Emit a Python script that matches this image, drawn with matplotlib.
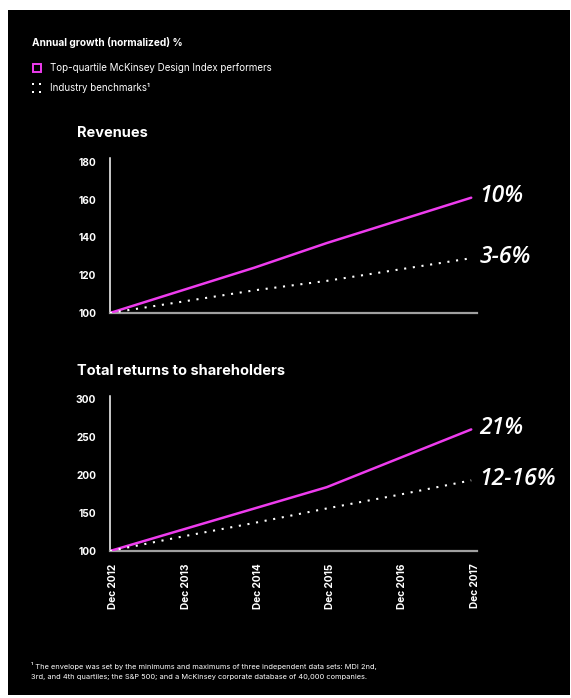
import numpy as np
import matplotlib
matplotlib.use("Agg")
import matplotlib.pyplot as plt
import matplotlib.transforms as mtransforms
from matplotlib.patches import Rectangle

# data (index, Dec 2012 = 100)
years = ["Dec 2012", "Dec 2013", "Dec 2014", "Dec 2015", "Dec 2016", "Dec 2017"]
rev_top = [100, 112, 124, 137, 149, 161]
rev_bench = [100, 106, 112, 117, 123, 129]
tsr_top = [100, 128, 156, 184, 222, 260]
tsr_bench = [100, 119, 137, 156, 174, 193]
rev_ticks = [100, 120, 140, 160, 180]
tsr_ticks = [100, 150, 200, 250, 300]
rev_labels = ["10%", "3-6%"]
tsr_labels = ["21%", "12-16%"]

W, H = 571, 698
MAGENTA = "#ee3cee"
plt.rcParams["font.family"] = ["Inter", "DejaVu Sans"]

fig = plt.figure(figsize=(W / 100, H / 100), dpi=100, facecolor="white")

# background axes in pixel coords (y from top) for the black panel and legend
bg = fig.add_axes([0, 0, 1, 1], zorder=-10)
bg.set_xlim(0, W)
bg.set_ylim(H, 0)
bg.axis("off")
bg.add_patch(Rectangle((8, 10), 562, 685, facecolor="black", edgecolor="none"))
bg.add_patch(Rectangle((32.5, 64), 8, 8, facecolor="none", edgecolor=MAGENTA, lw=1.4))
bg.scatter([33, 40, 33, 40], [84, 84, 92, 92], s=2.5, color="white", marker="s", lw=0)


def px(x, y):
    return x / W, 1 - y / H


x = np.arange(len(years))


def make_axes(top, bottom, ylim, ticks, top_vals, bench_vals, labels, show_x):
    l, b = px(110, bottom)
    ax = fig.add_axes([l, b, 367 / W, (bottom - top) / H])
    ax.patch.set_alpha(0)
    ax.plot(x, top_vals, color=MAGENTA, lw=1.8, solid_capstyle="round", zorder=3)
    ax.plot(x, bench_vals, color="white", lw=1.5, linestyle=(0, (1, 3.2)), zorder=3)
    ax.set_xlim(0, 5.08)
    ax.set_ylim(*ylim)
    ax.set_yticks(ticks)
    for s in ["top", "right"]:
        ax.spines[s].set_visible(False)
    ax.spines["left"].set_color("white")
    ax.spines["left"].set_linewidth(1.1)
    ax.spines["bottom"].set_color("#a0a0a0")
    ax.spines["bottom"].set_linewidth(1.6)
    ax.tick_params(axis="y", length=0, pad=10, labelcolor="white", labelsize=7.3)
    for t in ax.get_yticklabels():
        t.set_fontweight("bold")
    ax.set_xticks(x)
    if show_x:
        ax.set_xticklabels(years, rotation=90, fontsize=7.3, fontweight="bold", color="white")
        ax.tick_params(axis="x", length=0, pad=9)
        shift = mtransforms.ScaledTranslation(3.5 / 100, 0, fig.dpi_scale_trans)
        for t in ax.get_xticklabels():
            t.set_transform(t.get_transform() + shift)
    else:
        ax.set_xticklabels([])
        ax.tick_params(axis="x", length=0)
    for vals, lab in zip([top_vals, bench_vals], labels):
        ax.annotate(lab, (x[-1], vals[-1]), xytext=(6, 1), textcoords="offset points",
                    va="center", ha="left", color="white", fontsize=16.5,
                    fontstyle="italic", fontweight="semibold", family=["Open Sans", "DejaVu Sans"],
                    annotation_clip=False)
    return ax


make_axes(158, 313, (100, 182), rev_ticks, rev_top, rev_bench, rev_labels, False)
make_axes(396, 551, (100, 304), tsr_ticks, tsr_top, tsr_bench, tsr_labels, True)

# titles
fig.text(*px(77, 133), "Revenues", color="white", fontsize=10.5, fontweight="bold", va="center")
fig.text(*px(77, 371), "Total returns to shareholders", color="white", fontsize=10.5,
         fontweight="bold", va="center")

# header and legend text
fig.text(*px(32, 43), "Annual growth (normalized) %", color="white", fontsize=7.3,
         fontweight="bold", va="center")
fig.text(*px(50, 68), "Top-quartile McKinsey Design Index performers", color="white",
         fontsize=7.0, va="center")
fig.text(*px(50, 88), "Industry benchmarks\u00b9", color="white", fontsize=7.0, va="center")

# footnote
fig.text(*px(31, 666), "\u00b9 The envelope was set by the minimums and maximums of three independent "
         "data sets: MDI 2nd,", color="white", fontsize=5.35, va="center")
fig.text(*px(31, 677), "3rd, and 4th quartiles; the S&P 500; and a McKinsey corporate database "
         "of 40,000 companies.", color="white", fontsize=5.35, va="center")

fig.savefig("out.png", dpi=100, facecolor="white")
